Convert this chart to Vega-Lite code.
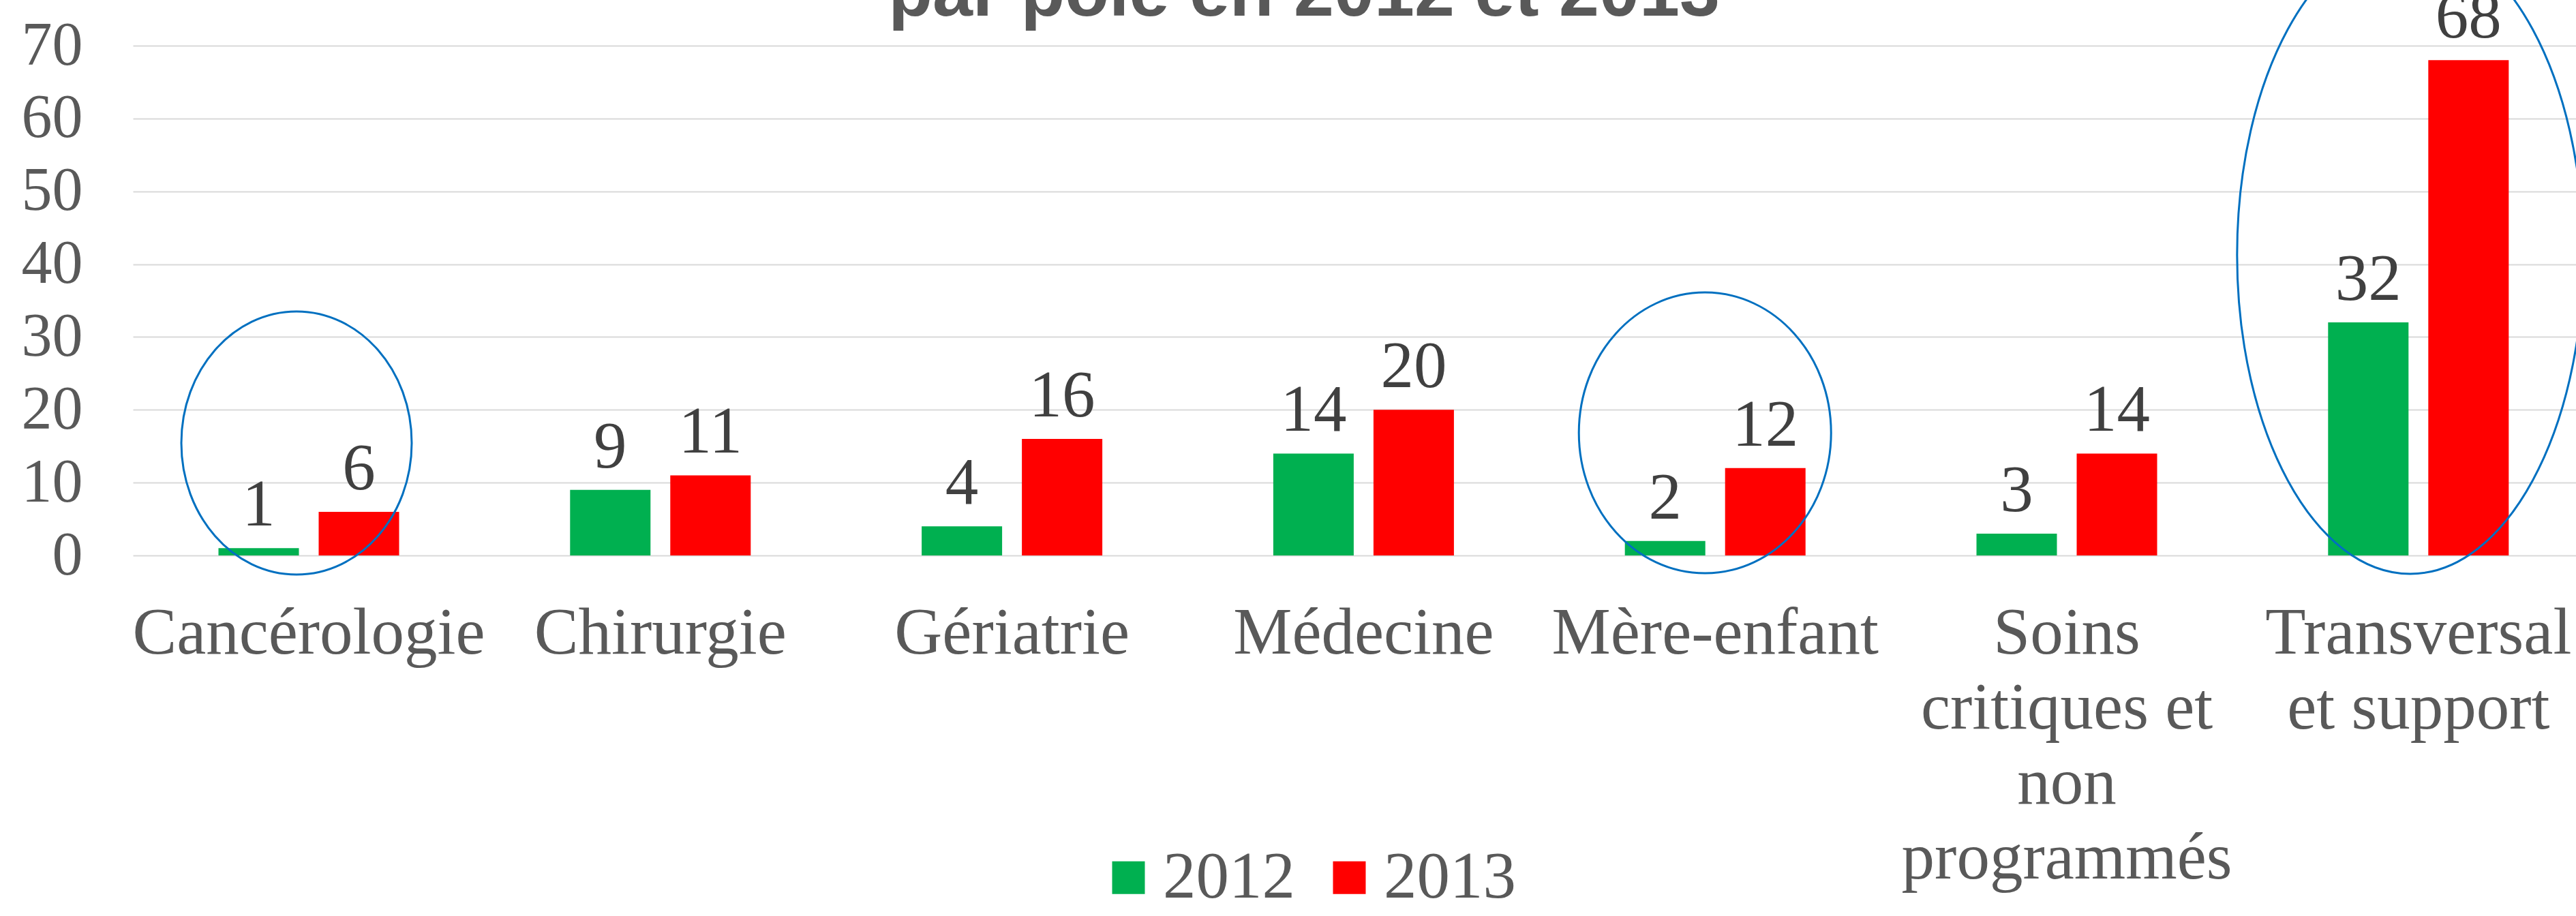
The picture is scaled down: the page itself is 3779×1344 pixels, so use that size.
{
  "$schema": "https://vega.github.io/schema/vega-lite/v6.json",
  "width": 3584,
  "height": 748,
  "autosize": {"type": "none"},
  "padding": {"left": 195, "top": 67, "right": 0, "bottom": 529},
  "background": "white",
  "title": {
    "text": "par pôle en 2012 et 2013",
    "font": "Liberation Sans",
    "fontWeight": "bold",
    "fontSize": 106,
    "color": "#595959",
    "anchor": "middle",
    "frame": "group",
    "baseline": "alphabetic",
    "offset": -229,
    "dx": -74
  },
  "config": {"view": {"stroke": null}},
  "datasets": {
    "comptes": [
      {"pole": "Cancérologie", "annee": "2012", "valeur": 1},
      {"pole": "Cancérologie", "annee": "2013", "valeur": 6},
      {"pole": "Chirurgie", "annee": "2012", "valeur": 9},
      {"pole": "Chirurgie", "annee": "2013", "valeur": 11},
      {"pole": "Gériatrie", "annee": "2012", "valeur": 4},
      {"pole": "Gériatrie", "annee": "2013", "valeur": 16},
      {"pole": "Médecine", "annee": "2012", "valeur": 14},
      {"pole": "Médecine", "annee": "2013", "valeur": 20},
      {"pole": "Mère-enfant", "annee": "2012", "valeur": 2},
      {"pole": "Mère-enfant", "annee": "2013", "valeur": 12},
      {"pole": "Soins critiques et non programmés", "annee": "2012", "valeur": 3},
      {"pole": "Soins critiques et non programmés", "annee": "2013", "valeur": 14},
      {"pole": "Transversal et support", "annee": "2012", "valeur": 32},
      {"pole": "Transversal et support", "annee": "2013", "valeur": 68}
    ],
    "cercles": [
      {"pole": "Cancérologie", "centre": 15.44},
      {"pole": "Mère-enfant", "centre": 16.84},
      {"pole": "Transversal et support", "centre": 41.27}
    ]
  },
  "layer": [
    {
      "data": {"name": "comptes"},
      "mark": {"type": "bar"},
      "encoding": {
        "x": {
          "field": "pole",
          "type": "nominal",
          "sort": null,
          "scale": {"paddingInner": 0.4862, "paddingOuter": 0.2173, "align": 0.5598},
          "axis": {
            "title": null,
            "domain": false,
            "ticks": false,
            "tickSize": 0,
            "grid": false,
            "labelAngle": 0,
            "labelFont": "Liberation Serif",
            "labelFontSize": 97,
            "labelColor": "#595959",
            "labelBaseline": "alphabetic",
            "labelPadding": 143,
            "labelLineHeight": 110,
            "labelOverlap": false,
            "labelLimit": 0,
            "labelBound": false,
            "labelFlush": false,
            "labelExpr": "datum.label == 'Soins critiques et non programmés' ? ['Soins', 'critiques et', 'non', 'programmés'] : datum.label == 'Transversal et support' ? ['Transversal', 'et support'] : datum.label"
          }
        },
        "xOffset": {
          "field": "annee",
          "type": "nominal",
          "scale": {"paddingInner": 0.1973, "paddingOuter": 0}
        },
        "y": {
          "field": "valeur",
          "type": "quantitative",
          "scale": {"domain": [0, 70], "nice": false},
          "axis": {
            "title": null,
            "values": [0, 10, 20, 30, 40, 50, 60, 70],
            "grid": true,
            "gridColor": "#D9D9D9",
            "gridWidth": 2,
            "domain": false,
            "ticks": false,
            "tickSize": 0,
            "labelFont": "Liberation Serif",
            "labelFontSize": 90,
            "labelColor": "#595959",
            "labelPadding": 74,
            "labelBaseline": "middle"
          }
        },
        "color": {
          "field": "annee",
          "type": "nominal",
          "scale": {"domain": ["2012", "2013"], "range": ["#00B050", "#FF0000"]},
          "legend": {
            "orient": "none",
            "legendX": 1412,
            "legendY": 1172,
            "direction": "horizontal",
            "title": null,
            "padding": 0,
            "symbolType": "square",
            "symbolSize": 2304,
            "symbolStrokeWidth": 0,
            "labelFont": "Liberation Serif",
            "labelFontSize": 97,
            "labelColor": "#595959",
            "labelOffset": 2,
            "labelLimit": 0,
            "columnPadding": 31
          }
        }
      }
    },
    {
      "data": {"name": "comptes"},
      "mark": {
        "type": "text",
        "font": "Liberation Serif",
        "fontSize": 97,
        "color": "#404040",
        "baseline": "alphabetic",
        "align": "center",
        "dy": -33
      },
      "encoding": {
        "x": {"field": "pole", "type": "nominal", "sort": null},
        "xOffset": {"field": "annee", "type": "nominal"},
        "y": {"field": "valeur", "type": "quantitative"},
        "text": {"field": "valeur", "type": "quantitative"}
      }
    },
    {
      "data": {"name": "cercles"},
      "mark": {
        "type": "point",
        "filled": false,
        "stroke": "#0070C0",
        "strokeWidth": 3,
        "opacity": 1,
        "size": 40000
      },
      "encoding": {
        "x": {"field": "pole", "type": "nominal", "sort": null},
        "y": {"field": "centre", "type": "quantitative"},
        "shape": {
          "field": "pole",
          "type": "nominal",
          "scale": {
            "domain": ["Cancérologie", "Mère-enfant", "Transversal et support"],
            "range": [
              "M -1.87 0 A 1.69 1.93 0 1 0 1.51 0 A 1.69 1.93 0 1 0 -1.87 0 Z",
              "M -2.00 0 A 1.85 2.06 0 1 0 1.70 0 A 1.85 2.06 0 1 0 -2.00 0 Z",
              "M -2.66 0 A 2.54 4.68 0 1 0 2.42 0 A 2.54 4.68 0 1 0 -2.66 0 Z"
            ]
          },
          "legend": null
        }
      }
    }
  ]
}
